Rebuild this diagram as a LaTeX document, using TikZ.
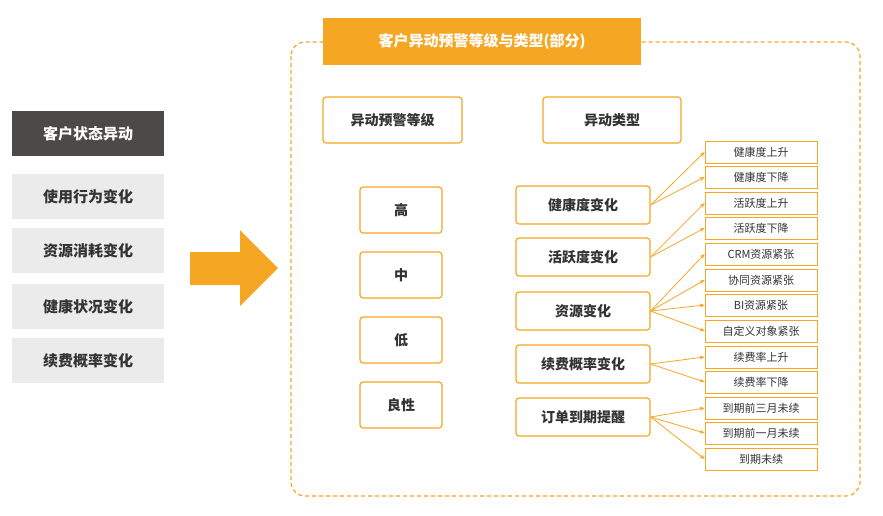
\documentclass[tikz,border=0pt]{standalone}
\usepackage{fontspec}
\setmainfont{Noto Sans CJK SC}
\usetikzlibrary{arrows.meta}
\definecolor{org}{HTML}{F5A623}
\definecolor{dk}{HTML}{4D4948}
\definecolor{lg}{HTML}{EBEBEB}
\definecolor{tx}{HTML}{333333}
\begin{document}
\begin{tikzpicture}[x=1pt,y=-1pt,
  side/.style={fill=lg,minimum width=152pt,minimum height=45pt,text=tx,font=\bfseries\fontsize{15}{15}\selectfont},
  box/.style={draw=org,line width=1.2pt,rounded corners=3pt,fill=white,text=tx,font=\bfseries\fontsize{14}{14}\selectfont},
  leaf/.style={draw=org,line width=0.8pt,fill=white,minimum width=112pt,minimum height=22pt,text=tx,font=\fontsize{11}{11}\selectfont},
  con/.style={draw=org,line width=0.8pt,-{Stealth[length=5pt,width=4pt]}}]
\useasboundingbox (0,0) rectangle (883,515);
\node[fill=dk,text=white,minimum width=152pt,minimum height=45pt,font=\bfseries\fontsize{15}{15}\selectfont] (s0) at (88,133.5) {客户状态异动};
\node[side] (s1) at (88,196.5) {使用行为变化};
\node[side] (s2) at (88,250.5) {资源消耗变化};
\node[side] (s3) at (88,306.5) {健康状况变化};
\node[side] (s4) at (88,360.5) {续费概率变化};
\fill[org] (190,252) -- (240,252) -- (240,230) -- (278,268) -- (240,306) -- (240,285) -- (190,285) -- cycle;
\draw[org,line width=1.2pt,dash pattern=on 4pt off 3pt,rounded corners=14pt] (291,42) rectangle (860,496);
\node[fill=org,text=white,minimum width=318pt,minimum height=47pt,font=\bfseries\fontsize{15}{15}\selectfont] (t) at (482,41.5) {客户异动预警等级与类型(部分)};
\node[box,minimum width=139pt,minimum height=46pt] (h1) at (392.5,120) {异动预警等级};
\node[box,minimum width=138pt,minimum height=46pt] (h2) at (612,120) {异动类型};
\foreach \n/\y/\t in {l1/210/高,l2/275/中,l3/340/低,l4/405/良性}
  \node[box,minimum width=82pt,minimum height=46pt] (\n) at (401,\y) {\t};
\foreach \n/\y/\t in {a/205/健康度变化,b/257/活跃度变化,c/311/资源变化,d/364/续费概率变化,e/417/订单到期提醒}
  \node[box,minimum width=134pt,minimum height=38pt] (\n) at (583,\y) {\t};
\foreach \n/\y/\t in {a1/152/健康度上升,a2/177/健康度下降,b1/203/活跃度上升,b2/228/活跃度下降,c1/254/CRM资源紧张,c2/280/协同资源紧张,c3/305/BI资源紧张,c4/331/自定义对象紧张,d1/357/续费率上升,d2/382/续费率下降,e1/408/到期前三月未续,e2/433/到期前一月未续,e3/459/到期未续}
  \node[leaf] (\n) at (761,\y) {\t};
\foreach \s/\l in {a/a1,a/a2,b/b1,b/b2,c/c1,c/c2,c/c3,c/c4,d/d1,d/d2,e/e1,e/e2,e/e3}
  \draw[con] (\s.east) -- (\l.west);
\end{tikzpicture}
\end{document}
